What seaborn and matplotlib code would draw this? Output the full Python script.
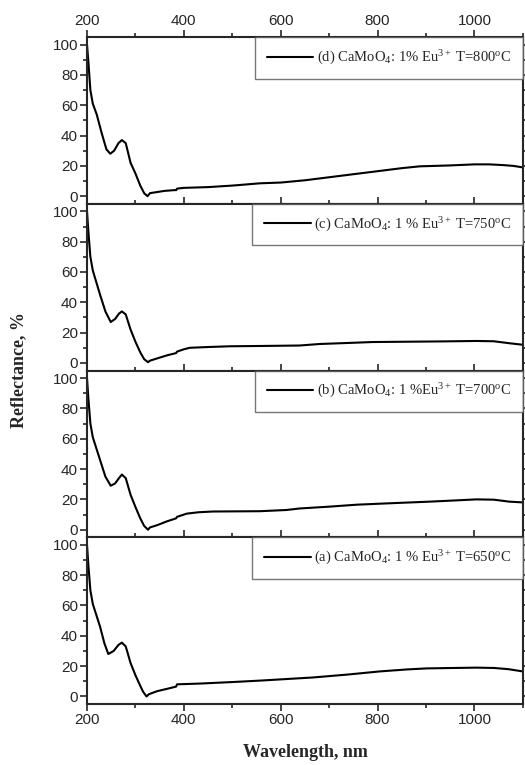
import seaborn as sns
import matplotlib.pyplot as plt
import matplotlib.ticker as mticker
import numpy as np

sns.set_style("ticks")
plt.rcParams["font.family"] = ["Liberation Sans", "DejaVu Sans"]
plt.rcParams["mathtext.fontset"] = "custom"
plt.rcParams["mathtext.rm"] = "Liberation Serif"
plt.rcParams["mathtext.it"] = "Liberation Serif:italic"

# ---- Data (wavelength nm, reflectance %) ----
wl_d = [200, 203, 207, 212, 220, 230, 240, 248, 256, 265, 272, 280, 290, 300, 310, 318, 325,
        330, 340, 360, 380, 384, 386, 400, 450, 500, 557, 600, 650, 700, 750, 800, 850, 887,
        950, 1000, 1030, 1060, 1080, 1100]
r_d = [100, 88, 70, 61, 54, 42, 31, 28, 30, 35, 37, 35, 22, 15, 7, 2, 0,
       2, 2.5, 3.5, 4, 4, 5, 5.5, 6, 7, 8.5, 9, 10.5, 12.5, 14.5, 16.5, 18.5, 19.7,
       20.3, 21, 21, 20.5, 20, 19]

wl_c = [200, 203, 207, 212, 227, 238, 249, 258, 266, 272, 280, 290, 300, 310, 318, 326,
        330, 345, 365, 384, 386, 400, 412, 450, 495, 560, 639, 680, 740, 790, 860, 930,
        1004, 1040, 1072, 1100]
r_c = [100, 86, 70, 61, 45, 34, 27, 29, 32.5, 34, 32, 22, 14, 7, 2.5, 0.5,
       1.5, 3, 5, 6.5, 7.5, 9, 10, 10.5, 11, 11.2, 11.5, 12.5, 13.2, 13.8, 14, 14.2,
       14.5, 14.3, 13, 12]

wl_b = [200, 203, 207, 212, 227, 238, 249, 258, 266, 272, 280, 290, 300, 310, 318, 326,
        330, 345, 365, 384, 386, 406, 430, 460, 557, 612, 639, 700, 757, 830, 907, 960,
        1004, 1040, 1072, 1100]
r_b = [100, 86, 70, 61, 46, 35, 29, 30.5, 34, 36.4, 34, 23, 15, 7.5, 2.5, 0,
       1.5, 3, 5.5, 7.5, 8.5, 10.6, 11.5, 12, 12.2, 13, 14, 15.2, 16.5, 17.5, 18.5, 19.3,
       20, 19.8, 18.5, 18]

wl_a = [200, 203, 207, 212, 227, 236, 244, 255, 265, 272, 280, 290, 300, 310, 316, 323,
        328, 345, 365, 384, 386, 433, 500, 560, 639, 666, 740, 804, 860, 901, 960,
        1004, 1040, 1070, 1100]
r_a = [100, 86, 70, 61, 46, 35, 28, 30, 34, 35.5, 33, 22, 14, 7, 3, 0,
       1.5, 3.5, 5, 6.5, 8, 8.5, 9.5, 10.5, 12, 12.5, 14.5, 16.5, 17.8, 18.5, 18.8,
       19, 18.8, 18, 16.5]

labels = [
    r"(d) CaMoO$_4$: 1% Eu$^{3+}$ T=800$^{\rm o}$C",
    r"(c) CaMoO$_4$: 1 % Eu$^{3+}$ T=750$^{\rm o}$C",
    r"(b) CaMoO$_4$: 1 %Eu$^{3+}$ T=700$^{\rm o}$C",
    r"(a) CaMoO$_4$: 1 % Eu$^{3+}$ T=650$^{\rm o}$C",
]
series = [(wl_d, r_d), (wl_c, r_c), (wl_b, r_b), (wl_a, r_a)]

fig, axes = plt.subplots(4, 1, figsize=(5.25, 7.65), dpi=100, sharex=True)
fig.subplots_adjust(left=0.1657, right=0.996, top=0.9516, bottom=0.0797, hspace=0)

for i, (ax, (wl, r), lab) in enumerate(zip(axes, series, labels)):
    sns.lineplot(x=wl, y=r, ax=ax, color="black", lw=1.5, label=lab)
    ax.set_xlim(200, 1100)
    ax.set_ylim(-5, 105)
    ax.yaxis.set_major_locator(mticker.MultipleLocator(20))
    ax.yaxis.set_minor_locator(mticker.MultipleLocator(10))
    ax.xaxis.set_major_locator(mticker.MultipleLocator(200))
    ax.xaxis.set_minor_locator(mticker.MultipleLocator(100))
    ax.tick_params(which="both", direction="out", top=True, right=True, width=1.2,
                   labelsize=11, pad=1.5)
    ax.tick_params(which="major", length=5)
    ax.tick_params(which="minor", length=3)
    ax.tick_params(axis="x", labeltop=(i == 0), labelbottom=(i == 3))
    ax.tick_params(axis="y", labelright=False)
    for s in ax.spines.values():
        s.set_linewidth(1.5)
    ax.set_xlabel("")
    ax.set_ylabel("")
    leg = ax.legend(loc="upper right", borderaxespad=0, frameon=True, fancybox=False,
                    handlelength=3.2, handletextpad=0.25, borderpad=0.8,
                    prop={"family": "Liberation Serif", "size": 10.5})
    leg.get_frame().set_edgecolor("#555555")
    leg.get_frame().set_linewidth(1.0)

fig.text(0.035, 0.516, "Reflectance, %", rotation=90, ha="center", va="center",
         family="Liberation Serif", weight="bold", fontsize=13)
fig.text(0.581, 0.016, "Wavelength, nm", ha="center", va="center",
         family="Liberation Serif", weight="bold", fontsize=13)

plt.savefig("out.png", dpi=100)
plt.close()
